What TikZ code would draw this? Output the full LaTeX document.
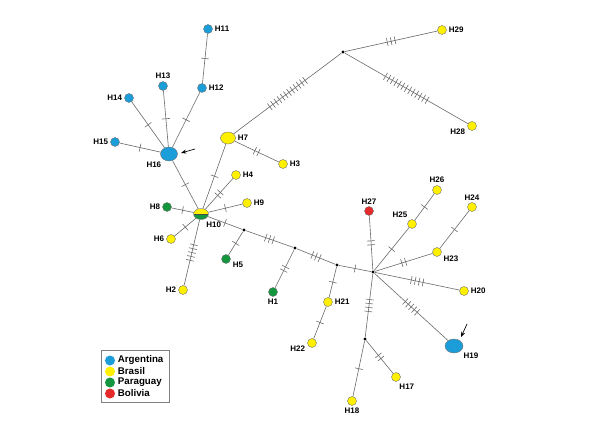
\documentclass[tikz,border=0pt]{standalone}
\usepackage{fontspec}
\setmainfont{Liberation Sans}
\usetikzlibrary{shapes.geometric,arrows.meta,positioning,fit,decorations.markings}
\definecolor{hapArg}{HTML}{1B9DD9}
\definecolor{hapBra}{HTML}{FFF000}
\definecolor{hapPar}{HTML}{14963F}
\definecolor{hapBol}{HTML}{E42A2A}
\definecolor{lineGray}{HTML}{6A6A6A}

\begin{document}
\begin{tikzpicture}[x=0.75pt,y=-0.75pt,
 hap/.style={circle,draw=black!55,line width=0.3pt,inner sep=0pt,minimum size=6.75pt},
 bighap/.style={ellipse,draw=black!55,line width=0.3pt,inner sep=0pt},
 mv/.style={circle,fill=black,inner sep=0pt,minimum size=2.6pt},
 link/.style={draw=lineGray,line width=0.45pt},
 muts/.style={postaction={decorate,decoration={markings,mark=at position 0.5 with
   {\foreach \k in {1,...,#1} {\draw[lineGray,line width=0.45pt] ({(\k-0.5-#1/2)*3pt},-3pt) -- ++(0,6pt);}}}}},
 arrow/.style={-{Stealth[length=4pt,width=3pt]},line width=0.5pt},
 legdot/.style={circle,inner sep=0pt,minimum size=7.5pt},
 legtxt/.style={font=\bfseries\fontsize{7.3}{8}\selectfont,inner sep=1.5pt},
 every label/.style={font=\bfseries\fontsize{6}{7}\selectfont,inner sep=1.5pt}]
\useasboundingbox (0,0) rectangle (593,428);

\node[hap,fill=hapArg,label=right:H11] (H11) at (208,29) {};
\node[hap,fill=hapArg,label=right:H12] (H12) at (202,88) {};
\node[hap,fill=hapArg,label=above:H13] (H13) at (163,86) {};
\node[hap,fill=hapArg,label=left:H14] (H14) at (129,98) {};
\node[hap,fill=hapArg,label=left:H15] (H15) at (115,142) {};
\node[bighap,fill=hapArg,minimum width=12.75pt,minimum height=10.5pt,label=below left:H16] (H16) at (169,154) {};
\node[bighap,fill=hapBra,minimum width=11.25pt,minimum height=9pt,label=right:H7] (H7) at (228,138) {};
\node[hap,fill=hapBra,label=right:H3] (H3) at (283,164) {};
\node[hap,fill=hapBra,label=right:H4] (H4) at (236,175) {};
\node[hap,fill=hapBra,label=right:H9] (H9) at (247,203) {};
\node[bighap,minimum width=11.25pt,minimum height=8.25pt,label=-60:H10,
 path picture={\fill[hapBra] (path picture bounding box.north west) rectangle (path picture bounding box.east);
 \fill[hapPar] (path picture bounding box.west) rectangle (path picture bounding box.south east);
 \draw[black!70,line width=0.4pt] (path picture bounding box.west) -- (path picture bounding box.east);}] (H10) at (201,214) {};
\node[hap,fill=hapPar,label=left:H8] (H8) at (167,207) {};
\node[hap,fill=hapBra,label=left:H6] (H6) at (171,239) {};
\node[hap,fill=hapBra,label=left:H2] (H2) at (183,290) {};
\node[hap,fill=hapPar,label=-15:H5] (H5) at (226,259) {};
\node[mv] (mv1) at (244,230) {};
\node[mv] (mv2) at (295,248) {};
\node[hap,fill=hapPar,label=below:H1] (H1) at (273,292) {};
\node[mv] (mv3) at (337,265) {};
\node[hap,fill=hapBra,label=right:H21] (H21) at (328,302) {};
\node[hap,fill=hapBra,label=190:H22] (H22) at (312,343) {};
\node[mv] (hub) at (373,272) {};
\node[hap,fill=hapBol,label=above:H27] (H27) at (369,211) {};
\node[hap,fill=hapBra,label=120:H25] (H25) at (412,224) {};
\node[hap,fill=hapBra,label=above:H26] (H26) at (437,190) {};
\node[hap,fill=hapBra,label=above:H24] (H24) at (472,207) {};
\node[hap,fill=hapBra,label=-20:H23] (H23) at (437,252) {};
\node[hap,fill=hapBra,label=right:H20] (H20) at (464,291) {};
\node[bighap,fill=hapArg,minimum width=13.5pt,minimum height=10.5pt,label=-30:H19] (H19) at (454,346) {};
\node[mv] (mv5) at (365,339) {};
\node[hap,fill=hapBra,label=-75:H17] (H17) at (396,377) {};
\node[hap,fill=hapBra,label=below:H18] (H18) at (352,401) {};
\node[mv] (mvT) at (343,52) {};
\node[hap,fill=hapBra,label=right:H29] (H29) at (442,30) {};
\node[hap,fill=hapBra,label=190:H28] (H28) at (472,126) {};

\draw[link,muts=1] (H11) -- (H12);
\draw[link,muts=1] (H12) -- (H16);
\draw[link,muts=1] (H13) -- (H16);
\draw[link,muts=1] (H14) -- (H16);
\draw[link,muts=1] (H15) -- (H16);
\draw[link,muts=1] (H16) -- (H10);
\draw[link,muts=1] (H7) -- (H10);
\draw[link,muts=2] (H7) -- (H3);
\draw[link,muts=12] (H7) -- (mvT);
\draw[link,muts=3] (mvT) -- (H29);
\draw[link,muts=13] (mvT) -- (H28);
\draw[link,muts=2] (H10) -- (H4);
\draw[link,muts=1] (H10) -- (H9);
\draw[link,muts=1] (H10) -- (H8);
\draw[link,muts=1] (H10) -- (H6);
\draw[link,muts=5] (H10) -- (H2);
\draw[link,muts=1] (H10) -- (mv1);
\draw[link,muts=1] (mv1) -- (H5);
\draw[link,muts=3] (mv1) -- (mv2);
\draw[link,muts=2] (mv2) -- (H1);
\draw[link,muts=3] (mv2) -- (mv3);
\draw[link,muts=1] (mv3) -- (H21);
\draw[link,muts=1] (H21) -- (H22);
\draw[link,muts=1] (mv3) -- (hub);
\draw[link,muts=2] (hub) -- (H27);
\draw[link,muts=1] (hub) -- (H25);
\draw[link,muts=1] (H25) -- (H26);
\draw[link,muts=2] (hub) -- (H23);
\draw[link,muts=1] (H23) -- (H24);
\draw[link,muts=4] (hub) -- (H20);
\draw[link,muts=5] (hub) -- (H19);
\draw[link,muts=4] (hub) -- (mv5);
\draw[link,muts=2] (mv5) -- (H17);
\draw[link,muts=1] (mv5) -- (H18);

\coordinate (a16s) at (195,149);
\coordinate (a16e) at (181,153);
\draw[arrow] (a16s) -- (a16e);
\coordinate (a19s) at (467,324);
\coordinate (a19e) at (461,337);
\draw[arrow] (a19s) -- (a19e);

\node[legdot,fill=hapArg] (lA) at (110,360.5) {};
\node[legdot,fill=hapBra] (lB) at (110,371.5) {};
\node[legdot,fill=hapPar] (lC) at (110,382.5) {};
\node[legdot,fill=hapBol] (lD) at (110,393.5) {};
\node[legtxt,right=0.3pt of lA] (tA) {Argentina};
\node[legtxt,right=0.3pt of lB] (tB) {Brasil};
\node[legtxt,right=0.3pt of lC] (tC) {Paraguay};
\node[legtxt,right=0.3pt of lD] (tD) {Bolivia};
\node[draw=black!50,line width=0.4pt,inner sep=2.5pt,fit=(lA)(tA)(tC)(lD)(tD)] (leg) {};
\end{tikzpicture}
\end{document}
